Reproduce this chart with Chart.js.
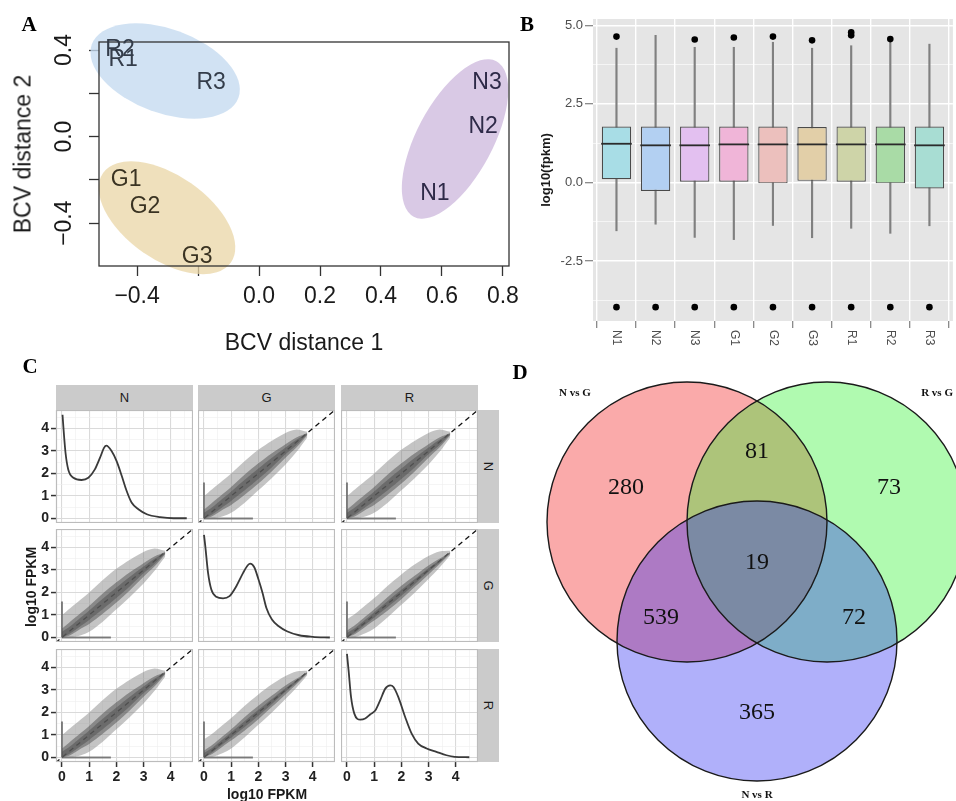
<!DOCTYPE html>
<html><head><meta charset="utf-8">
<script src="https://cdn.jsdelivr.net/npm/chart.js@4.4.1/dist/chart.umd.min.js"></script>
<style>
html,body{margin:0;padding:0;background:#fff}
body{width:956px;height:801px;overflow:hidden;position:relative;font-family:"Liberation Sans",Arial,sans-serif}
canvas{position:absolute}
.t{position:absolute;white-space:nowrap;line-height:1;transform:translate(-50%,-50%)}
.strip{position:absolute;background:#cbcbcb;color:#1a1a1a;font-size:13px;display:flex;align-items:center;justify-content:center}
</style></head><body>
<script>
// ================= DATA =================
// Panel A: BCV (MDS) plot
const bcvLabels = ['R2','R1','R3','G1','G2','G3','N1','N2','N3'];
const bcvX = [-0.456,-0.446,-0.157,-0.436,-0.374,-0.203,0.577,0.735,0.748];
const bcvY = [0.400,0.354,0.248,-0.200,-0.324,-0.554,-0.265,0.045,0.248];
const groupNames = ['R','G','N'];
const groupCX = [-0.308,-0.302,0.643];
const groupCY = [0.303,-0.375,-0.011];
const bcvTicksLabelledX = [-0.4,0,0.2,0.4,0.6,0.8];
const bcvTicksLabelledY = [-0.4,0,0.4];

// Panel B: boxplots of log10(fpkm)
const boxCats = ['N1','N2','N3','G1','G2','G3','R1','R2','R3'];
const boxQ1 = [0.10,-0.27,0.00,0.02,-0.03,0.05,0.02,-0.03,-0.19];
const boxQ3 = [1.78,1.78,1.78,1.78,1.78,1.76,1.78,1.78,1.78];
const boxMed = [1.23,1.18,1.18,1.21,1.21,1.21,1.21,1.21,1.18];
const boxLo = [-1.54,-1.33,-1.75,-1.82,-1.37,-1.76,-1.46,-1.62,-1.38];
const boxHi = [4.27,4.68,4.30,4.30,4.46,4.27,4.35,4.47,4.40];
const outlierCat = ['N1','N3','G1','G2','G3','R1','R1','R2'];
const outlierVal = [4.64,4.55,4.61,4.64,4.52,4.78,4.68,4.56];
const lowOutlierVal = [-3.97,-3.97,-3.97,-3.97,-3.97,-3.97,-3.97,-3.97,-3.97];

// Panel C: pairs plot (density on diagonal, scatter clouds off diagonal)
const facetNames = ['N','G','R'];
const densNX = [0.02,0.05,0.13,0.23,0.42,0.72,0.97,1.21,1.40,1.55,1.63,1.83,2.01,2.20,2.38,2.56,2.81,3.12,3.61,4.10,4.59];
const densNY = [4.61,4.09,2.92,2.18,1.81,1.71,1.81,2.18,2.70,3.15,3.24,2.99,2.55,1.89,1.22,0.71,0.41,0.19,0.06,0.01,0.01];
const densGX = [0.00,0.05,0.15,0.27,0.45,0.70,0.94,1.19,1.44,1.62,1.70,1.85,2.00,2.15,2.30,2.50,2.75,3.05,3.50,4.00,4.63];
const densGY = [4.56,4.04,2.87,2.13,1.81,1.74,1.84,2.28,2.87,3.22,3.28,3.12,2.60,2.00,1.30,0.80,0.50,0.28,0.10,0.03,0.00];
const densRX = [0.00,0.06,0.15,0.27,0.49,0.67,0.86,1.04,1.22,1.41,1.59,1.71,1.89,2.14,2.38,2.62,2.93,3.29,3.66,3.96,4.50];
const densRY = [4.60,3.86,2.68,1.95,1.68,1.73,1.92,2.09,2.54,3.06,3.20,3.13,2.68,1.80,1.06,0.62,0.40,0.25,0.10,0.03,0.01];
const cloudX = [0,0.3,0.7,1.0,1.5,2.0,2.5,3.0,3.4,3.8];
const wideOuterLo = [0,0,0.10,0.25,0.70,1.25,1.80,2.40,2.95,3.60];
const wideOuterHi = [1.00,1.30,1.70,2.00,2.55,3.05,3.45,3.80,3.95,3.85];
const wideInnerLo = [0,0.10,0.40,0.60,1.05,1.55,2.10,2.70,3.15,3.70];
const wideInnerHi = [0.40,0.70,1.10,1.40,1.95,2.45,2.90,3.30,3.60,3.80];
const wideCoreLo = [0,0.18,0.52,0.78,1.25,1.75,2.28,2.85,3.25,3.74];
const wideCoreHi = [0.25,0.50,0.90,1.20,1.72,2.22,2.70,3.15,3.50,3.78];
const narrowOuterLo = [0,0.02,0.20,0.40,0.90,1.45,2.00,2.60,3.10,3.65];
const narrowOuterHi = [0.80,1.05,1.45,1.75,2.30,2.80,3.25,3.62,3.82,3.85];
const narrowInnerLo = [0,0.15,0.50,0.75,1.20,1.70,2.25,2.80,3.25,3.72];
const narrowInnerHi = [0.30,0.55,0.95,1.25,1.80,2.30,2.75,3.20,3.50,3.80];
const narrowCoreLo = [0,0.22,0.60,0.88,1.35,1.85,2.38,2.92,3.32,3.75];
const narrowCoreHi = [0.20,0.42,0.82,1.12,1.62,2.12,2.60,3.08,3.43,3.78];
const zeroColumnTop = 1.6;
const zeroRowEnd = 1.8;

// Panel D: Venn diagram
const vennSets = ['N vs G','R vs G','N vs R'];
const vennCX = [0,1,0.5];
const vennCY = [0,0,-0.85];
const vennR = 1;
const vennCounts = ['280','81','73','19','539','72','365'];
const vennCountX = [-0.436,0.5,1.443,0.5,-0.186,1.193,0.5];
const vennCountY = [0.243,0.5,0.243,-0.293,-0.686,-0.686,-1.364];
const vennNameX = [-0.80,1.786,0.5];
const vennNameY = [0.921,0.921,-1.95];

// ================= SETUP =================
const SANS = '"Liberation Sans", Arial, sans-serif';
const SERIF = '"Liberation Serif", "Times New Roman", serif';
Chart.defaults.animation = false;
Chart.defaults.responsive = false;
Chart.defaults.maintainAspectRatio = false;
Chart.defaults.events = [];
Chart.defaults.plugins.legend.display = false;
Chart.defaults.plugins.tooltip.enabled = false;
Chart.defaults.font.family = SANS;

function canvasAt(l,t,w,h){
  const c = document.createElement('canvas');
  c.width = w; c.height = h;
  c.style.left = l+'px'; c.style.top = t+'px';
  c.style.width = w+'px'; c.style.height = h+'px';
  document.body.appendChild(c);
  return c.getContext('2d');
}
function textDiv(txt, cx, cy, css, rot){
  const d = document.createElement('div');
  d.className = 't';
  d.textContent = txt;
  d.style.cssText += css;
  d.style.left = cx+'px'; d.style.top = cy+'px';
  if (rot) d.style.transform = 'translate(-50%,-50%) rotate('+rot+'deg)';
  document.body.appendChild(d);
  return d;
}
const near = (a,b)=>Math.abs(a-b)<1e-6;
const fmtR = v => (v<0?'\u2212':'') + Math.abs(v).toFixed(1);
function noPad(s){ s.paddingTop = 0; s.paddingBottom = 0; s.paddingLeft = 0; s.paddingRight = 0; }

// ================= PANEL A =================
const ellipseStyle = {
  R:{rx:78,ry:42,rot:20,color:'rgba(196,218,240,0.78)'},
  G:{rx:78,ry:42,rot:35,color:'rgba(233,214,165,0.75)'},
  N:{rx:88,ry:38,rot:-62,color:'rgba(206,186,222,0.78)'}
};
const labelColorA = {R:'#343d4a', G:'#3a3322', N:'#2e2a48'};
const pluginA = {
  id:'panelA',
  beforeDatasetsDraw(chart){
    const {ctx, scales:{x,y}} = chart;
    ctx.save();
    groupNames.forEach((g,i)=>{
      const s = ellipseStyle[g];
      ctx.fillStyle = s.color;
      ctx.beginPath();
      ctx.ellipse(x.getPixelForValue(groupCX[i]), y.getPixelForValue(groupCY[i]), s.rx, s.ry, s.rot*Math.PI/180, 0, Math.PI*2);
      ctx.fill();
    });
    ctx.restore();
  },
  afterDatasetsDraw(chart){
    const {ctx, chartArea:a, scales:{x,y}} = chart;
    ctx.save();
    ctx.strokeStyle = '#333'; ctx.lineWidth = 1.3;
    ctx.strokeRect(a.left, a.top, a.right-a.left, a.bottom-a.top);
    ctx.font = '23px '+SANS; ctx.textAlign = 'center'; ctx.textBaseline = 'middle';
    chart.getDatasetMeta(0).data.forEach((p,i)=>{
      ctx.fillStyle = labelColorA[bcvLabels[i][0]];
      ctx.fillText(bcvLabels[i], p.x, p.y);
    });
    ctx.fillStyle = '#1a1a1a';
    x.ticks.forEach(t=>{
      if (bcvTicksLabelledX.some(v=>near(v,t.value))) ctx.fillText(fmtR(t.value), x.getPixelForValue(t.value), a.bottom+31);
    });
    y.ticks.forEach(t=>{
      if (bcvTicksLabelledY.some(v=>near(v,t.value))) {
        ctx.save(); ctx.translate(a.left-34, y.getPixelForValue(t.value)); ctx.rotate(-Math.PI/2);
        ctx.fillText(fmtR(t.value), 0, 0); ctx.restore();
      }
    });
    ctx.restore();
  }
};
const tickGridA = {drawOnChartArea:false, drawTicks:true, tickLength:10, tickColor:'#333', tickWidth:1.3, color:'#333'};
new Chart(canvasAt(0,0,520,360), {
  type:'scatter',
  data:{datasets:[{data:bcvLabels.map((l,i)=>({x:bcvX[i],y:bcvY[i]})), pointRadius:0}]},
  options:{
    layout:{padding:{top:42,right:11,left:0,bottom:0}},
    scales:{
      x:{type:'linear',min:-0.525,max:0.82,afterFit:s=>{s.height=94;noPad(s);},
         ticks:{display:false,stepSize:0.2,includeBounds:false},grid:tickGridA,border:{display:false}},
      y:{type:'linear',min:-0.598,max:0.437,afterFit:s=>{s.width=99;noPad(s);},
         ticks:{display:false,stepSize:0.2,includeBounds:false},grid:tickGridA,border:{display:false}}
    }
  },
  plugins:[pluginA]
});
textDiv('BCV distance 1', 304, 342, 'font-size:23px;color:#1a1a1a;');
textDiv('BCV distance 2', 23, 154, 'font-size:23px;color:#1a1a1a;', -90);

// ================= PANEL B =================
const boxColors = ['#a8dde6','#b3d0f2','#e3c0f0','#f0b5d8','#ecc0bd','#e2cfa8','#ced4a8','#a9dba6','#a8ddd3'];
const pluginB = {
  id:'panelB',
  beforeDraw(chart){
    const {ctx, chartArea:a} = chart;
    ctx.save(); ctx.fillStyle = '#e5e5e5';
    ctx.fillRect(a.left, a.top, a.right-a.left, a.bottom-a.top); ctx.restore();
  },
  afterDraw(chart){
    const {ctx, chartArea:a, scales:{x}} = chart;
    ctx.save(); ctx.fillStyle = '#4d4d4d'; ctx.font = '12px '+SANS;
    ctx.textAlign = 'left'; ctx.textBaseline = 'middle';
    x.ticks.forEach(t=>{
      const lab = boxCats[Math.round(t.value)];
      if (lab === undefined) return;
      ctx.save(); ctx.translate(x.getPixelForValue(t.value), a.bottom+9); ctx.rotate(Math.PI/2);
      ctx.fillText(lab, 0, 0); ctx.restore();
    });
    ctx.restore();
  }
};
const isMajorB = c => c.tick && near(c.tick.value/2.5, Math.round(c.tick.value/2.5));
new Chart(canvasAt(500,0,470,360), {
  type:'bar',
  data:{datasets:[
    {type:'line', data:[...outlierCat.map((c,i)=>({x:boxCats.indexOf(c), y:outlierVal[i]})),
                        ...lowOutlierVal.map((v,i)=>({x:i, y:v}))],
     showLine:false, pointRadius:3.3, pointBackgroundColor:'#000', pointBorderWidth:0, order:0},
    {type:'line', data:boxMed.map((v,i)=>({x:i,y:v})), showLine:false, pointStyle:'line',
     pointRadius:15.3, pointBorderWidth:1.8, pointBorderColor:'#2b2b2b', order:1},
    {type:'bar', data:boxCats.map((c,i)=>({x:i,y:[boxQ1[i],boxQ3[i]]})), backgroundColor:boxColors,
     borderColor:'#4a4a4a', borderWidth:1.2, borderSkipped:false, barPercentage:0.75, categoryPercentage:1, grouped:false, order:2},
    {type:'bar', data:boxCats.map((c,i)=>({x:i,y:[boxLo[i],boxHi[i]]})), backgroundColor:'#808080',
     barThickness:1.5, grouped:false, order:3}
  ]},
  options:{
    layout:{padding:{top:19,right:0,left:0,bottom:0}},
    scales:{
      x:{type:'linear', min:-0.6, max:8.6, offset:false, afterFit:s=>{s.height=39;noPad(s);},
         ticks:{display:false, stepSize:1, includeBounds:false},
         grid:{color:'#fff', lineWidth:1.4, drawTicks:true, tickLength:7, tickColor:'#7f7f7f', tickWidth:1.2},
         border:{display:false}},
      y:{type:'linear', min:-4.41, max:5.2, afterFit:s=>{s.width=93;noPad(s);},
         ticks:{stepSize:1.25, includeBounds:false, autoSkip:false, color:'#4d4d4d', font:{size:13}, padding:2,
                callback:v=> near(v/2.5, Math.round(v/2.5)) ? v.toFixed(1) : ''},
         grid:{color:'#fff', lineWidth:c=>isMajorB(c)?1.4:0.6, drawTicks:true, tickLength:8,
               tickColor:c=>isMajorB(c)?'#7f7f7f':'rgba(0,0,0,0)', tickWidth:1.2},
         border:{display:false}}
    }
  },
  plugins:[pluginB]
});
textDiv('log10(fpkm)', 545, 170, 'font-size:13px;font-weight:bold;color:#1a1a1a;', -90);

// ================= PANEL C =================
const colLeft = [56,198,341], colW = 137;
const rowTop = [410,529,649], rowH = 113;
const yAxW = 26, xAxH = 28;
const densX = [densNX, densGX, densRX], densY = [densNY, densGY, densRY];
const isInt = c => c.tick && near(c.tick.value, Math.round(c.tick.value));
const borderC = {
  id:'borderC',
  afterDatasetsDraw(chart){
    const {ctx, chartArea:a} = chart;
    ctx.save(); ctx.strokeStyle = '#bcbcbc'; ctx.lineWidth = 1.2;
    ctx.strokeRect(a.left+0.5, a.top+0.5, a.right-a.left-1, a.bottom-a.top-1); ctx.restore();
  }
};
function gridC(showTicks){
  return {color:c=>isInt(c)?'#dadada':'#eeeeee', lineWidth:c=>isInt(c)?1.1:0.6,
          drawTicks:showTicks, tickLength:5, tickWidth:1.5, tickColor:c=>isInt(c)?'#333':'rgba(0,0,0,0)'};
}
function facet(r,c){
  const left = colLeft[c] - (c===0?yAxW:0);
  const w = colW + (c===0?yAxW:0);
  const h = rowH + (r===2?xAxH:0);
  const ds = [];
  const pts = (xs,ys)=>xs.map((v,i)=>({x:v,y:ys[i]}));
  if (r===c){
    ds.push({data:pts(densX[r],densY[r]), borderColor:'#3a3a3a', borderWidth:1.8, pointRadius:0,
             cubicInterpolationMode:'monotone', fill:false});
  } else {
    const wide = (r===0 || c===0);
    const bands = wide ? [[wideOuterLo,wideOuterHi,'rgba(125,125,125,0.45)'],[wideInnerLo,wideInnerHi,'rgba(60,60,60,0.55)'],[wideCoreLo,wideCoreHi,'rgba(20,20,20,0.5)']]
                       : [[narrowOuterLo,narrowOuterHi,'rgba(125,125,125,0.45)'],[narrowInnerLo,narrowInnerHi,'rgba(60,60,60,0.55)'],[narrowCoreLo,narrowCoreHi,'rgba(20,20,20,0.5)']];
    bands.forEach(([lo,hi,col])=>{
      ds.push({data:pts(cloudX,lo), borderWidth:0, pointRadius:0, fill:false, tension:0.3});
      ds.push({data:pts(cloudX,hi), borderWidth:0, pointRadius:0, fill:'-1', tension:0.3, backgroundColor:col});
    });
    ds.push({data:[{x:0,y:0},{x:0,y:zeroColumnTop}], borderColor:'rgba(70,70,70,0.65)', borderWidth:2, pointRadius:0, fill:false});
    ds.push({data:[{x:0,y:0},{x:zeroRowEnd,y:0}], borderColor:'rgba(70,70,70,0.65)', borderWidth:2, pointRadius:0, fill:false});
    ds.push({data:[{x:-1,y:-1},{x:6,y:6}], borderColor:'#111', borderWidth:1.3, borderDash:[5,4], pointRadius:0, fill:false});
  }
  new Chart(canvasAt(left, rowTop[r], w, h), {
    type:'line',
    data:{datasets:ds},
    options:{
      layout:{padding:0},
      scales:{
        x:{type:'linear', min:-0.22, max:4.82, afterFit:s=>{s.height=(r===2?xAxH:0);noPad(s);},
           ticks:{display:r===2, stepSize:0.5, includeBounds:false, autoSkip:false, maxRotation:0,
                  color:'#222', font:{size:14, weight:'bold'}, padding:2,
                  callback:v=>near(v,Math.round(v))?String(Math.round(v)):''},
           grid:gridC(r===2), border:{display:false}},
        y:{type:'linear', min:-0.2, max:4.82, afterFit:s=>{s.width=(c===0?yAxW:0);noPad(s);},
           ticks:{display:c===0, stepSize:0.5, includeBounds:false, autoSkip:false,
                  color:'#222', font:{size:14, weight:'bold'}, padding:2,
                  callback:v=>near(v,Math.round(v))?String(Math.round(v)):''},
           grid:gridC(c===0), border:{display:false}}
      }
    },
    plugins:[borderC]
  });
}
for (let r=0;r<3;r++) for (let c=0;c<3;c++) facet(r,c);
facetNames.forEach((n,i)=>{
  const d = document.createElement('div'); d.className='strip';
  d.style.left=colLeft[i]+'px'; d.style.top='385px'; d.style.width=colW+'px'; d.style.height='25px';
  d.textContent = n; document.body.appendChild(d);
  const e = document.createElement('div'); e.className='strip';
  e.style.left=(colLeft[2]+colW)+'px'; e.style.top=rowTop[i]+'px'; e.style.width='21px'; e.style.height=rowH+'px';
  const sp = document.createElement('span'); sp.textContent = n; sp.style.transform='rotate(90deg)'; sp.style.display='inline-block';
  e.appendChild(sp); document.body.appendChild(e);
});
textDiv('log10 FPKM', 267, 794, 'font-size:14px;font-weight:bold;color:#1a1a1a;');
textDiv('log10 FPKM', 31, 587, 'font-size:14px;font-weight:bold;color:#1a1a1a;', -90);

// ================= PANEL D =================
const vennFill = ['rgba(242,19,19,0.36)','rgba(36,242,36,0.36)','rgba(36,36,242,0.36)'];
const vennRadiusPx = c => { const s = c.chart.scales.x; return Math.abs(s.getPixelForValue(vennR)-s.getPixelForValue(0)); };
const pluginD = {
  id:'panelD',
  afterDatasetsDraw(chart){
    const {ctx, scales:{x,y}} = chart;
    ctx.save(); ctx.fillStyle = '#111'; ctx.textAlign='center'; ctx.textBaseline='middle';
    ctx.font = '24px '+SERIF;
    vennCounts.forEach((t,i)=>ctx.fillText(t, x.getPixelForValue(vennCountX[i]), y.getPixelForValue(vennCountY[i])));
    ctx.font = 'bold 11px '+SERIF;
    vennSets.forEach((t,i)=>ctx.fillText(t, x.getPixelForValue(vennNameX[i]), y.getPixelForValue(vennNameY[i])));
    ctx.restore();
  }
};
new Chart(canvasAt(500,360,500,441), {
  type:'scatter',
  data:{datasets:[
    {data:vennSets.map((s,i)=>({x:vennCX[i],y:vennCY[i]})), pointRadius:vennRadiusPx, pointBackgroundColor:vennFill,
     pointBorderWidth:0, order:1},
    {data:vennSets.map((s,i)=>({x:vennCX[i],y:vennCY[i]})), pointRadius:vennRadiusPx, pointBackgroundColor:'rgba(0,0,0,0)',
     pointBorderColor:'#1a1a1a', pointBorderWidth:1.4, order:0}
  ]},
  options:{
    layout:{padding:0},
    scales:{
      x:{type:'linear', display:false, min:-1.3357, max:2.2357},
      y:{type:'linear', display:false, min:-1.993, max:1.157}
    }
  },
  plugins:[pluginD]
});

// ================= PANEL LETTERS =================
[['A',29,24],['B',527,24],['C',30,366],['D',520,372]].forEach(([l,x,y])=>
  textDiv(l, x, y, 'font-family:'+SERIF+';font-weight:bold;font-size:21px;color:#000;'));
</script>
</body></html>
